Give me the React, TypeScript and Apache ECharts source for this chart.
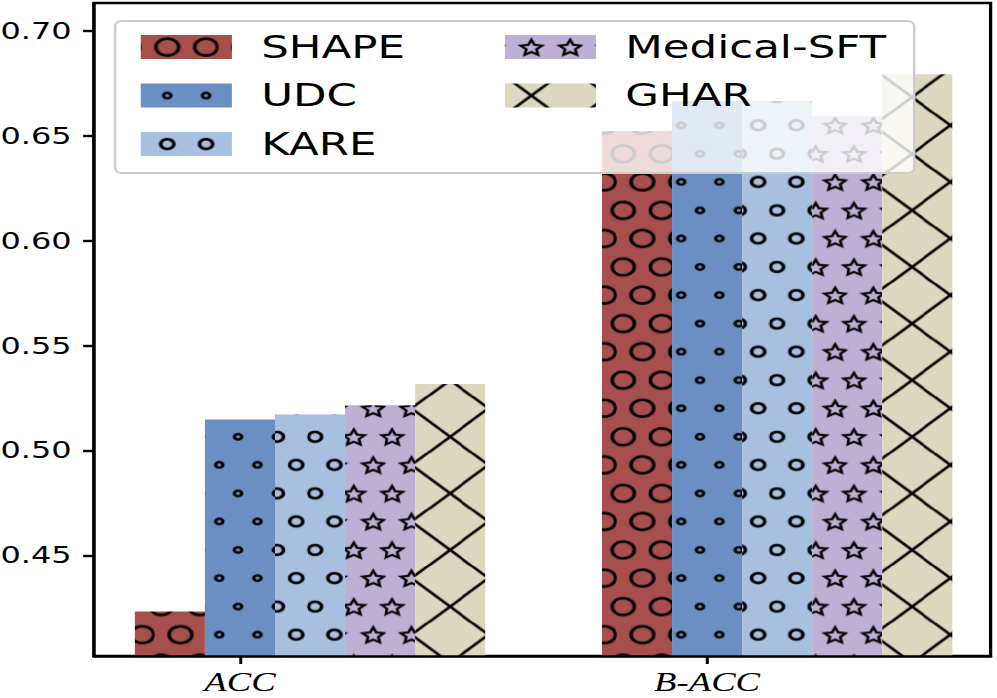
import React, { useEffect, useRef } from 'react';
import * as echarts from 'echarts';

// ---- data ----
const categories = ['ACC', 'B-ACC'];
const methods = ['SHAPE', 'UDC', 'KARE', 'Medical-SFT', 'GHAR'];
const shapeVals = [0.4232, 0.6523];
const udcVals = [0.5147, 0.6666];
const kareVals = [0.5171, 0.6666];
const medicalVals = [0.5215, 0.6593];
const gharVals = [0.5317, 0.6793];
const yTicks = [0.45, 0.5, 0.55, 0.6, 0.65, 0.7];
const xTickPositions = [0, 1];

const seriesValues = [shapeVals, udcVals, kareVals, medicalVals, gharVals];
const colors = ['#A64F4C', '#6B8FC2', '#A7C0DF', '#BEB0D4', '#DCD7BF'];
const hatches = ['O', 'o', 'oo', '*', 'x'];
const offsets = [-0.15, 0, 0.15, 0.3, 0.45];
const BAR_W = 0.15;

const Y_MIN = Math.min(...shapeVals, ...udcVals, ...kareVals, ...medicalVals, ...gharVals) * 0.95;
const Y_MAX = Math.max(...shapeVals, ...udcVals, ...kareVals, ...medicalVals, ...gharVals) * 1.05;

const W = 733;
const H = 698;
const STRETCH = 997 / W;

function makePattern(color: string, kind: string) {
  const T = 56.6;
  const R = 5;
  const c = document.createElement('canvas');
  c.width = Math.round(T * R);
  c.height = Math.round(T * R);
  const ctx = c.getContext('2d') as CanvasRenderingContext2D;
  ctx.scale(c.width / T, c.height / T);
  ctx.fillStyle = color;
  ctx.fillRect(0, 0, T, T);
  ctx.strokeStyle = '#000';
  const s = T / 2;
  const x0 = 5.4;
  const y0 = 40.5;
  const pts: number[][] = [];
  for (let j = -3; j <= 3; j++) {
    for (let i = -2; i <= 3; i++) {
      const even = ((j % 2) + 2) % 2 === 0;
      pts.push([x0 + i * s + (even ? 0 : s / 2), y0 + j * s]);
    }
  }
  if (kind === 'x') {
    ctx.lineWidth = 2.3;
    const xi = 47.85;
    for (let k = -3; k <= 3; k++) {
      ctx.beginPath();
      ctx.moveTo(-10, -10 - xi + y0 + k * T);
      ctx.lineTo(T + 10, T + 10 - xi + y0 + k * T);
      ctx.stroke();
      ctx.beginPath();
      ctx.moveTo(-10, -(-10 - xi) + y0 + k * T);
      ctx.lineTo(T + 10, -(T + 10 - xi) + y0 + k * T);
      ctx.stroke();
    }
  } else if (kind === '*') {
    ctx.lineWidth = 2.0;
    ctx.lineJoin = 'miter';
    const Ro = 8.3;
    const Ri = Ro * 0.47;
    for (const [px, py] of pts) {
      ctx.beginPath();
      for (let k = 0; k < 10; k++) {
        const r = k % 2 === 0 ? Ro : Ri;
        const a = -Math.PI / 2 + (k * Math.PI) / 5;
        const xx = px + r * Math.cos(a);
        const yy = py + 1 + r * Math.sin(a);
        if (k === 0) ctx.moveTo(xx, yy);
        else ctx.lineTo(xx, yy);
      }
      ctx.closePath();
      ctx.stroke();
    }
  } else {
    const r = kind === 'O' ? 8.3 : kind === 'oo' ? 4.8 : 2.7;
    ctx.lineWidth = kind === 'o' ? 2.3 : 2.6;
    for (const [px, py] of pts) {
      ctx.beginPath();
      ctx.arc(px, py, r, 0, Math.PI * 2);
      ctx.stroke();
    }
  }
  return { image: c.toDataURL(), repeat: 'repeat', imageWidth: T, imageHeight: T };
}

export default function App() {
  const ref = useRef<HTMLDivElement>(null);
  useEffect(() => {
    const el = ref.current;
    if (!el) return;
    const chart = echarts.init(el, null, { renderer: 'svg', width: W, height: H });
    const patterns = methods.map((_, i) => makePattern(colors[i], hatches[i]));

    const legendText = {
      fontFamily: 'DejaVu Sans',
      fontSize: 32,
      lineHeight: 32,
      color: '#000',
      padding: [0, 0, 0, 16.5],
    };
    const legendBase = {
      orient: 'vertical',
      top: 26,
      itemWidth: 67,
      itemHeight: 24,
      itemGap: 16.5,
      icon: 'rect',
      selectedMode: false,
      textStyle: legendText,
      z: 5,
    };

    const option: any = {
      animation: false,
      backgroundColor: '#fff',
      grid: {
        left: 69.1,
        right: 4.7,
        top: 3,
        bottom: 42,
        containLabel: false,
        outerBoundsMode: 'none',
        show: true,
        borderColor: '#000',
        borderWidth: 2.4,
        backgroundColor: 'transparent',
      },
      xAxis: {
        type: 'value',
        min: -0.3125,
        max: 1.607,
        z: 6,
        axisLine: { show: true, onZero: false, lineStyle: { color: '#000', width: 2.5 } },
        axisTick: { show: true, customValues: xTickPositions, length: 8, lineStyle: { color: '#000', width: 2.2 } },
        axisLabel: {
          customValues: xTickPositions,
          formatter: (v: number) => categories[Math.round(v)] ?? '',
          fontFamily: 'Liberation Serif',
          fontStyle: 'italic',
          fontSize: 27,
          color: '#000',
          margin: 12,
        },
        splitLine: { show: false },
      },
      yAxis: {
        type: 'value',
        min: Y_MIN,
        max: Y_MAX,
        z: 6,
        axisLine: { show: true, onZero: false, lineStyle: { color: '#000', width: 2.2 } },
        axisTick: { show: true, customValues: yTicks, length: 8, lineStyle: { color: '#000', width: 2.4 } },
        axisLabel: {
          customValues: yTicks,
          formatter: (v: number) => v.toFixed(2),
          fontFamily: 'DejaVu Sans',
          fontSize: 23.5,
          color: '#000',
          margin: 16.5,
        },
        splitLine: { show: false },
      },
      legend: [
        {
          ...legendBase,
          left: 98.5,
          data: methods.slice(0, 3).map((m, i) => ({ name: m, itemStyle: { color: patterns[i] } })),
        },
        {
          ...legendBase,
          left: 366.2,
          data: methods.slice(3).map((m, i) => ({ name: m, itemStyle: { color: patterns[i + 3] } })),
        },
      ],
      graphic: [
        {
          type: 'rect',
          z: 3,
          shape: { x: 84.6, y: 21, width: 587.5, height: 152, r: 5 },
          style: { fill: 'rgba(255,255,255,0.8)', stroke: '#cccccc', lineWidth: 1.8 },
        },
      ],
      series: methods.map((m, si) => ({
        type: 'custom',
        name: m,
        z: 2,
        itemStyle: { color: patterns[si] },
        encode: { x: 0, y: 1 },
        data: seriesValues[si].map((v, gi) => [xTickPositions[gi], v]),
        renderItem: (params: any, api: any) => {
          const xc = api.value(0) + offsets[si];
          const p1 = api.coord([xc - BAR_W / 2, api.value(1)]);
          const p2 = api.coord([xc + BAR_W / 2, Y_MIN]);
          return {
            type: 'rect',
            shape: { x: p1[0], y: p1[1], width: p2[0] - p1[0], height: p2[1] - p1[1] },
            style: { fill: patterns[si] },
          };
        },
      })),
    };
    chart.setOption(option);
    return () => chart.dispose();
  }, []);
  return (
    <div
      ref={ref}
      style={{
        position: 'absolute',
        left: 0,
        top: 0,
        width: W,
        height: H,
        transform: `scaleX(${STRETCH})`,
        transformOrigin: '0 0',
      }}
    />
  );
}
